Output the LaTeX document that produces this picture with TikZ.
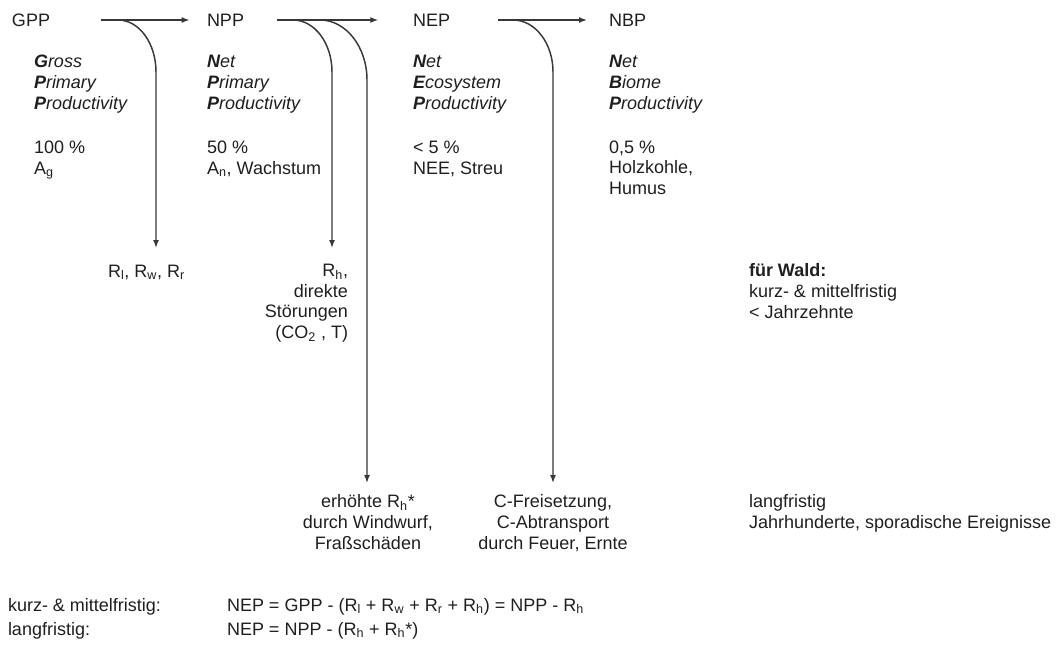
\documentclass[tikz,border=0pt]{standalone}
\usepackage{fontspec}
\setmainfont{Liberation Sans}
\usetikzlibrary{arrows.meta}
\begin{document}
\begin{tikzpicture}[x=0.75pt,y=-0.75pt,
  txt/.style={inner sep=0pt, outer sep=0pt, font=\fontsize{13.5}{15.4}\selectfont, text=black!88},
  lbl/.style={txt, anchor=base west, align=left},
  lblr/.style={txt, anchor=base east, align=right},
  lblc/.style={txt, anchor=base, align=center},
  itl/.style={lbl, font=\fontsize{13.5}{15.4}\selectfont\itshape},
  conn/.style={draw=black!78, line width=1.1pt},
  arr/.style={conn, -{Latex[length=6pt,width=4.5pt]}},
]
\useasboundingbox (0,0) rectangle (1062,646);

% top row
\node[txt,anchor=west] (GPP) at (12,20) {GPP};
\node[txt,anchor=west] (NPP) at (207,20) {NPP};
\node[txt,anchor=west] (NEP) at (413,20) {NEP};
\node[txt,anchor=west] (NBP) at (609,20) {NBP};

% names (anchored at the baseline of the last line)
\node[itl] (gppname) at (34,109) {\textbf{G}ross\\\textbf{P}rimary\\\textbf{P}roductivity};
\node[itl] (nppname) at (207,109) {\textbf{N}et\\\textbf{P}rimary\\\textbf{P}roductivity};
\node[itl] (nepname) at (413,109) {\textbf{N}et\\\textbf{E}cosystem\\\textbf{P}roductivity};
\node[itl] (nbpname) at (609,109) {\textbf{N}et\\\textbf{B}iome\\\textbf{P}roductivity};

% values
\node[lbl] (gppval) at (34,174) {100 \%\\A\textsubscript{g}};
\node[lbl] (nppval) at (207,174) {50 \%\\A\textsubscript{n}, Wachstum};
\node[lbl] (nepval) at (413,174) {< 5 \%\\NEE, Streu};
\node[lbl] (nbpval) at (609,194.5) {0,5 \%\\Holzkohle,\\Humus};

% sinks
\node[lbl] (rlwr) at (108,277) {R\textsubscript{l}, R\textsubscript{w}, R\textsubscript{r}};
\node[lblr] (rh) at (348,338.5) {R\textsubscript{h},\\direkte\\Störungen\\(CO\textsubscript{2} , T)};
\node[lblc] (rhstar) at (368,549) {erhöhte R\textsubscript{h}*\\durch Windwurf,\\Fraßschäden};
\node[lblc] (cfrei) at (553,549) {C-Freisetzung,\\C-Abtransport\\durch Feuer, Ernte};

% right notes
\node[lbl] (wald) at (749,318) {\textbf{für Wald:}\\kurz- \& mittelfristig\\< Jahrzehnte};
\node[lbl] (lang) at (749,528.5) {langfristig\\Jahrhunderte, sporadische Ereignisse};

% bottom formulas
\node[lbl] (kmlabel) at (8,611) {kurz- \& mittelfristig:};
\node[lbl] (lflabel) at (8,635) {langfristig:};
\node[lbl] (kmeq) at (227,611) {NEP = GPP - (R\textsubscript{l} + R\textsubscript{w} + R\textsubscript{r} + R\textsubscript{h}) = NPP - R\textsubscript{h}};
\node[lbl] (lfeq) at (227,635) {NEP = NPP - (R\textsubscript{h} + R\textsubscript{h}*)};

% main arrows
\draw[arr] ([xshift=38pt]GPP.east) -- ([xshift=-13pt]NPP.west);
\draw[arr] ([xshift=25pt]NPP.east) -- ([xshift=-26pt]NEP.west);
\draw[arr] ([xshift=36pt]NEP.east) -- ([xshift=-16.5pt]NBP.west);

% branch points and tips
\coordinate (s1) at (118,20);
\coordinate (s2) at (293,20);
\coordinate (s3) at (320,20);
\coordinate (s4) at (513,20);
\coordinate (t1) at (156,248);
\coordinate (t2) at (332,248);
\coordinate (t3) at (367,483);
\coordinate (t4) at (553,483);

\draw[arr] (s1) .. controls (139,20) and (156,43) .. (156,72) -- (t1);
\draw[arr] (s2) .. controls (314.5,20) and (332,43) .. (332,72) -- (t2);
\draw[arr] (s3) .. controls (346,20) and (367,47) .. (367,80) -- (t3);
\draw[arr] (s4) .. controls (535,20) and (553,43) .. (553,72) -- (t4);
\end{tikzpicture}
\end{document}
